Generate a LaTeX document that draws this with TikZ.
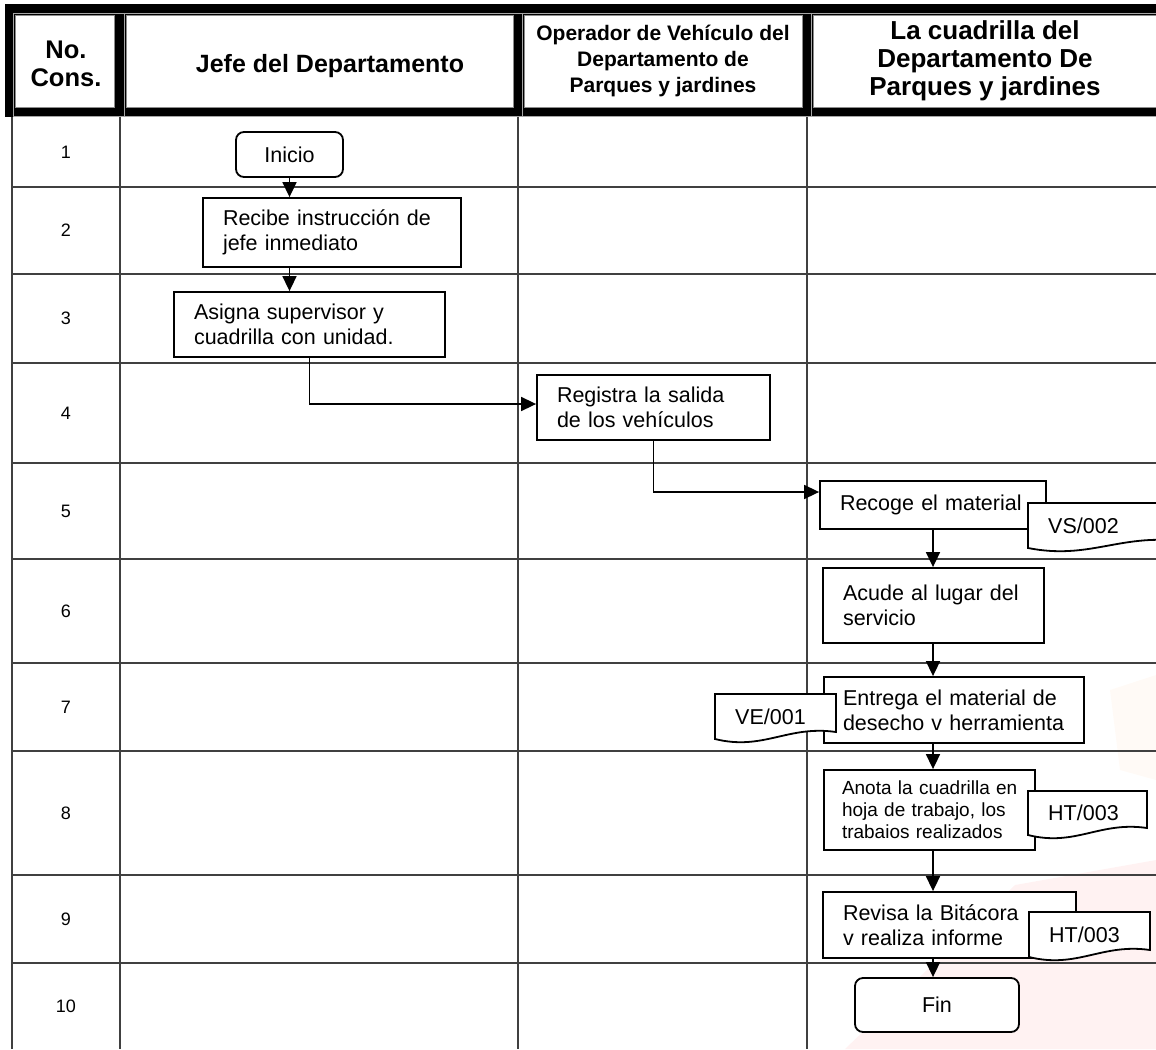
\documentclass[tikz,border=0pt]{standalone}
\usepackage{fontspec}
\setmainfont{Liberation Sans}
\usetikzlibrary{arrows.meta,calc}
\newcommand{\docshape}[6]{%
  \path[docfill] (#2,#3) -- (#4,#3) -- (#4,#5-7)
     .. controls ({#2+0.6*(#4-#2)},#5-14) and ({#2+0.4*(#4-#2)},#5+12) .. (#2,#5) -- cycle;
  \node[doctext] (#1) at (#2+20,{(#3+#5)/2}) {#6};}
\begin{document}
\begin{tikzpicture}[x=1pt,y=-1pt,
  grid/.style={draw=black!75, line width=1.1pt},
  rownum/.style={font=\fontsize{18}{20}\selectfont, inner sep=0pt},
  box/.style={draw=black, line width=1.8pt, fill=white, inner xsep=20pt, inner ysep=0pt, align=left, font=\fontsize{21.5}{25}\selectfont},
  term/.style={draw=black, line width=1.8pt, fill=white, rounded corners=8pt, inner sep=0pt, font=\fontsize{21.5}{25}\selectfont},
  docfill/.style={draw=black, line width=1.8pt, fill=white},
  doctext/.style={inner sep=0pt, anchor=west, font=\fontsize{21.5}{25}\selectfont},
  arr/.style={line width=1.6pt, -{Triangle[length=15pt,width=14pt]}},
  hcell/.style={draw=black!45, line width=0.7pt, fill=white}
]
\useasboundingbox (0,0) rectangle (1156,1049);
% faint watermark
\fill[red!7, opacity=0.7] (1015,885) -- (1156,860) -- (1156,1049) -- (845,1049) -- cycle;
\fill[orange!6, opacity=0.6] (1110,690) -- (1156,675) -- (1156,780) -- (1120,770) -- cycle;
% header band
\fill[black] (5,4) rectangle (1160,117);
\draw[black!35, line width=0.7pt] (13,13) -- (1160,13) (13,13) -- (13,116) (13,116) -- (1160,116)
  (124,13) -- (124,116) (522,13) -- (522,116) (811,13) -- (811,116);
\path[hcell] (15,15) rectangle (114,107);
\path[hcell] (126,15) rectangle (513,107);
\path[hcell] (524,15) rectangle (802,107);
\path[hcell] (813,15) rectangle (1170,107);
\node[align=center, inner sep=0pt, font=\bfseries\fontsize{25.5}{28}\selectfont] (h0) at (66,64) {No.\\Cons.};
\node[align=center, inner sep=0pt, font=\bfseries\fontsize{25}{28}\selectfont] (h1) at (330,66) {Jefe del Departamento};
\node[align=center, inner sep=0pt, font=\bfseries\fontsize{21}{26}\selectfont] (h2) at (663,61) {Operador de Vehículo del\\Departamento de\\Parques y jardines};
\node[align=center, inner sep=0pt, font=\bfseries\fontsize{26}{28}\selectfont] (h3) at (985,61) {La cuadrilla del\\Departamento De\\Parques y jardines};
% grid
\foreach \x in {120,518,807} \draw[grid] (\x,117) -- (\x,1049);
\draw[grid, line width=2pt] (12,117) -- (12,1049);
\foreach \y in {187,274,363,463,559,663,751,875,963} \draw[grid] (12,\y) -- (1156,\y);
% row numbers
\foreach \n/\y in {1/152,2/230.5,3/318.5,4/413,5/511,6/611,7/707,8/813,9/919,10/1006}
  \node[rownum] (r\n) at (66,\y) {\n};
% process nodes
\node[term, minimum width=107pt, minimum height=45pt] (inicio) at (289.5,154.5) {Inicio};
\node[box, minimum height=69pt, text width=218pt] (recibe) at (332,232.5) {Recibe instrucción de\\jefe inmediato};
\node[box, minimum height=65pt, text width=231pt] (asigna) at (309.5,324.5) {Asigna supervisor y\\cuadrilla con unidad.};
\node[box, minimum height=65pt, text width=193pt] (registra) at (653.5,407.5) {Registra la salida\\de los vehículos};
\node[box, minimum height=48pt, text width=186pt] (recoge) at (933,505) {Recoge el material};
\node[box, minimum height=75pt, text width=181pt] (acude) at (933.5,605.5) {Acude al lugar del\\servicio};
\node[box, minimum height=66pt, inner xsep=19pt, text width=222pt] (entrega) at (954,710) {Entrega el material de\\desecho v herramienta};
\node[box, minimum height=80pt, inner xsep=18pt, text width=175pt, font=\fontsize{19}{22}\selectfont] (anota) at (929.5,810) {\mbox{Anota la cuadrilla en}\\\mbox{hoja de trabajo, los}\\\mbox{trabaios realizados}};
\node[box, minimum height=66pt, text width=213pt] (revisa) at (949.5,925) {Revisa la Bitácora\\v realiza informe};
\node[term, minimum width=164pt, minimum height=54pt] (fin) at (937,1005) {Fin};
% documents
\docshape{vs}{1028}{503}{1180}{548}{VS/002}
\docshape{ve}{715}{694}{836}{739}{VE/001}
\docshape{hta}{1028}{791}{1147}{835}{HT/003}
\docshape{htb}{1029}{912}{1150}{957}{HT/003}
% connectors
\coordinate (colx) at (933,0);
\draw[arr] (inicio.south) -- (inicio.south |- recibe.north);
\draw[arr] (inicio.south |- recibe.south) -- (inicio.south |- asigna.north);
\draw[arr] (asigna.south) |- ([yshift=3.5pt]registra.west);
\draw[arr] (registra.south) |- ([yshift=13pt]recoge.west);
\draw[arr] (colx |- recoge.south) -- (colx |- acude.north);
\draw[arr] (colx |- acude.south) -- (colx |- entrega.north);
\draw[arr] (colx |- entrega.south) -- (colx |- anota.north);
\draw[arr] (colx |- anota.south) -- (colx |- revisa.north);
\draw[arr] (colx |- revisa.south) -- (colx |- fin.north);
\end{tikzpicture}
\end{document}
